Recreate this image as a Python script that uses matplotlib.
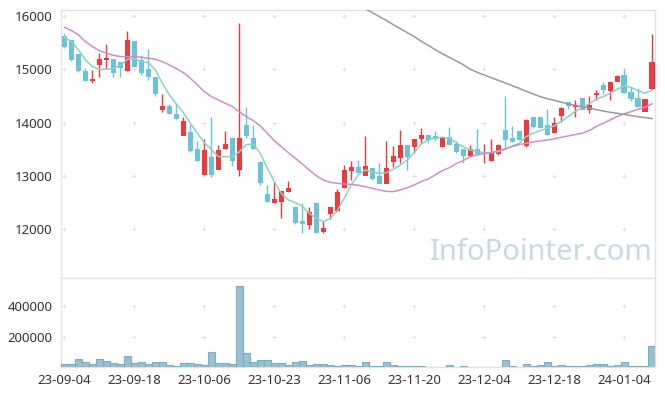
import numpy as np
import matplotlib
matplotlib.use("Agg")
import matplotlib.pyplot as plt

plt.rcParams['font.family'] = ['Noto Sans', 'DejaVu Sans']

# daily candles, 23-09-04 .. 24-01-10 (85 trading days)
opens = [15612, 15550, 15287, 14968, 14787, 15087, 15175, 15193, 15137, 14974,
         15531, 15174, 15006, 14855, 14237, 14312, 14162, 13761, 13824, 13505,
         13023, 13355, 13123, 13511, 13711, 13111, 13949, 13711, 13261, 12660,
         12498, 12516, 12698, 12410, 12148, 12085, 12485, 11954, 12298, 12348,
         12779, 13098, 13161, 13011, 13148, 12998, 12860, 13261, 13336, 13580,
         13548, 13699, 13767, 13749, 13548, 13724, 13599, 13505, 13373, 13505,
         13423, 13286, 13423, 13861, 13711, 13843, 13573, 14099, 14099, 13949,
         13811, 14124, 14374, 14299, 14449, 14236, 14524, 14700, 14599, 14774,
         14887, 14574, 14462, 14211, 14637]
closes = [15425, 15174, 14974, 14787, 14818, 15193, 15200, 14937, 15025, 15550,
          15050, 14937, 14850, 14537, 14312, 14162, 14080, 14030, 13474, 13286,
          13486, 13023, 13480, 13599, 13286, 13711, 13749, 13511, 12873, 12510,
          12560, 12710, 12773, 12123, 12110, 12323, 11935, 12022, 12410, 12698,
          13111, 13155, 13061, 13186, 12948, 12860, 13142, 13361, 13580, 13361,
          13686, 13767, 13673, 13699, 13724, 13586, 13448, 13373, 13498, 13411,
          13448, 13448, 13573, 13674, 13642, 13674, 14049, 13924, 13899, 13774,
          13986, 14261, 14311, 14324, 14236, 14324, 14549, 14612, 14749, 14862,
          14562, 14449, 14299, 14437, 15124]
highs = [15687, 15550, 15287, 15030, 14987, 15312, 15475, 15193, 15137, 15719,
         15531, 15268, 15375, 14855, 14530, 14343, 14343, 14100, 13949, 13649,
         13686, 14111, 13573, 13843, 13711, 15875, 14286, 13961, 13261, 12823,
         12886, 12710, 12898, 12410, 12485, 12410, 12485, 12148, 12410, 12760,
         13198, 13273, 13298, 13749, 13148, 13236, 13648, 13561, 13861, 13580,
         13686, 13899, 13767, 13836, 13724, 13924, 13660, 13505, 13573, 13874,
         13592, 13686, 13600, 14499, 13936, 13843, 14074, 14099, 14099, 14249,
         14099, 14300, 14374, 14424, 14449, 14499, 14612, 14768, 14749, 14887,
         15012, 14662, 14649, 14449, 15662]
lows = [15393, 15155, 14956, 14787, 14737, 14862, 15000, 14850, 14850, 14974,
        15050, 14893, 14800, 14505, 14205, 14162, 14062, 14030, 13455, 13286,
        13023, 12986, 13123, 13511, 13186, 12998, 13705, 13511, 12829, 12510,
        12498, 12204, 12698, 12098, 11935, 11997, 11922, 11922, 12185, 12348,
        12779, 12923, 13061, 13011, 12923, 12860, 12860, 13173, 13248, 13111,
        13436, 13611, 13611, 13649, 13548, 13586, 13423, 13248, 13348, 13411,
        13248, 13286, 13386, 13524, 13642, 13674, 13549, 13899, 13899, 13774,
        13811, 14011, 14249, 14099, 14236, 14174, 14424, 14536, 14424, 14774,
        14562, 14411, 14299, 14211, 14637]
volumes = [19600, 19600, 52000, 32600, 19600, 52000, 39000, 26000, 19600, 71700,
           26000, 32600, 19600, 32600, 32600, 13000, 6500, 26000, 26000, 19600,
           13000, 97800, 26000, 26000, 19600, 528000, 91300, 32600, 45600, 45600,
           26000, 26000, 13000, 32600, 39000, 13000, 19600, 19600, 12000, 11000,
           17000, 17000, 11000, 32600, 11000, 11000, 32600, 17000, 11000, 11000,
           11000, 11000, 4000, 4000, 4000, 17000, 4000, 11000, 4000, 4000,
           4000, 4000, 4000, 45600, 11000, 4000, 24000, 11000, 17000, 32600,
           11000, 17000, 11000, 11000, 11000, 17000, 24000, 24000, 11000, 17000,
           32600, 11000, 11000, 11000, 137000]

# moving averages as drawn on the chart
ma5 = [15600, 15518, 15362, 15174, 15049, 15000, 15000, 15012, 15081, 15187,
       15206, 15143, 15124, 14987, 14737, 14518, 14349, 14186, 13986, 13799,
       13623, 13498, 13361, 13361, 13361, 13450, 13586, 13599, 13423, 13142,
       12892, 12673, 12548, 12498, 12435, 12298, 12204, 12141, 12204, 12348,
       12579, 12829, 13017, 13111, 13080, 13048, 13061, 13123, 13204, 13298,
       13436, 13599, 13673, 13711, 13724, 13711, 13620, 13548, 13486, 13455,
       13436, 13436, 13455, 13498, 13561, 13611, 13736, 13799, 13849, 13892,
       13936, 14018, 14111, 14205, 14287, 14349, 14437, 14487, 14549, 14624,
       14687, 14662, 14599, 14549, 14612]
ma20 = [15787, 15725, 15644, 15518, 15425, 15350, 15300, 15262, 15237, 15237,
        15237, 15225, 15206, 15187, 15143, 15081, 15012, 14937, 14831, 14706,
        14580, 14487, 14424, 14362, 14299, 14200, 14111, 14036, 13936, 13799,
        13661, 13548, 13436, 13330, 13223, 13111, 13004, 12923, 12879, 12860,
        12848, 12842, 12823, 12798, 12767, 12735, 12710, 12704, 12735, 12779,
        12829, 12892, 12942, 13017, 13098, 13150, 13230, 13286, 13361, 13392,
        13423, 13436, 13473, 13505, 13548, 13586, 13611, 13636, 13655, 13673,
        13692, 13724, 13749, 13774, 13799, 13849, 13924, 13986, 14049, 14111,
        14161, 14205, 14249, 14287, 14349]
# long average, visible from day 43 on
ma60 = [16131, 16063, 15987, 15919, 15837, 15762, 15687, 15612, 15525, 15450,
        15368, 15293, 15225, 15156, 15087, 15000, 14943, 14893, 14843, 14793,
        14743, 14693, 14643, 14587, 14537, 14487, 14449, 14418, 14386, 14349,
        14324, 14299, 14274, 14243, 14218, 14193, 14174, 14155, 14130, 14111,
        14093, 14074]
ma60_start = 43

tick_idx = [0, 10, 20, 30, 40, 50, 60, 70, 80]
tick_labels = ['23-09-04', '23-09-18', '23-10-06', '23-10-23', '23-11-06',
               '23-11-20', '23-12-04', '23-12-18', '24-01-04']
price_ticks = [12000, 13000, 14000, 15000, 16000]
vol_ticks = [200000, 400000]

UP = '#f0393c'
DOWN = '#6cc3d9'
GRID = '#dedede'
SPINE = '#e3e3e3'

o = np.array(opens); c = np.array(closes)
h = np.array(highs); l = np.array(lows)
x = np.arange(len(o))
up = c >= o
col = np.where(up, UP, DOWN)

fig = plt.figure(figsize=(6.65, 3.96), dpi=100)
ax = fig.add_axes([0.0917, 0.298, 0.894, 0.677])
axv = fig.add_axes([0.0917, 0.0725, 0.894, 0.2255], sharex=ax)

ax.vlines(x, l, h, colors=col, linewidth=1, zorder=2)
ax.bar(x, np.abs(c - o) + 8, bottom=np.minimum(o, c) - 4, width=0.72,
       color=col, zorder=3)
ax.plot(x, ma5, color='#8ed0c2', lw=1.1, zorder=4)
ax.plot(x, ma20, color='#cc90c8', lw=1.1, zorder=4)
ax.plot(np.arange(ma60_start, ma60_start + len(ma60)), ma60,
        color='#9a9a9a', lw=1.1, zorder=4)

ax.set_xlim(-0.5, len(o) - 0.5)
ax.set_ylim(11085, 16113)
ax.set_yticks(price_ticks)
ax.set_yticklabels([str(v) for v in price_ticks])
ax.tick_params(axis='x', labelbottom=False, length=0)
ax.tick_params(axis='y', length=0, labelsize=9.5, colors='#333333', pad=6)

gx, gy = np.meshgrid(tick_idx, price_ticks)
ax.scatter(gx.ravel(), gy.ravel(), marker='+', s=10, color=GRID,
           linewidths=0.7, zorder=1)

ax.text(0.995, 0.04, 'InfoPointer.com', transform=ax.transAxes,
        ha='right', va='bottom', fontsize=21, color='#c7dae5', zorder=0)

axv.bar(x, volumes, width=1.0, color='#98c1d1', edgecolor='#7fadc0',
        linewidth=0.8, zorder=3)
axv.set_ylim(0, 582000)
axv.set_yticks(vol_ticks)
axv.set_yticklabels([str(v) for v in vol_ticks])
axv.set_xticks(tick_idx)
axv.set_xticklabels(tick_labels)
axv.tick_params(axis='both', length=0, labelsize=9.5, colors='#333333')
axv.tick_params(axis='y', pad=6)
axv.tick_params(axis='x', pad=5)
vx, vy = np.meshgrid(tick_idx, vol_ticks)
axv.scatter(vx.ravel(), vy.ravel(), marker='+', s=10, color=GRID,
            linewidths=0.7, zorder=1)

for a in (ax, axv):
    for s in a.spines.values():
        s.set_color(SPINE)
        s.set_linewidth(1)

fig.savefig('out.png', dpi=100)
